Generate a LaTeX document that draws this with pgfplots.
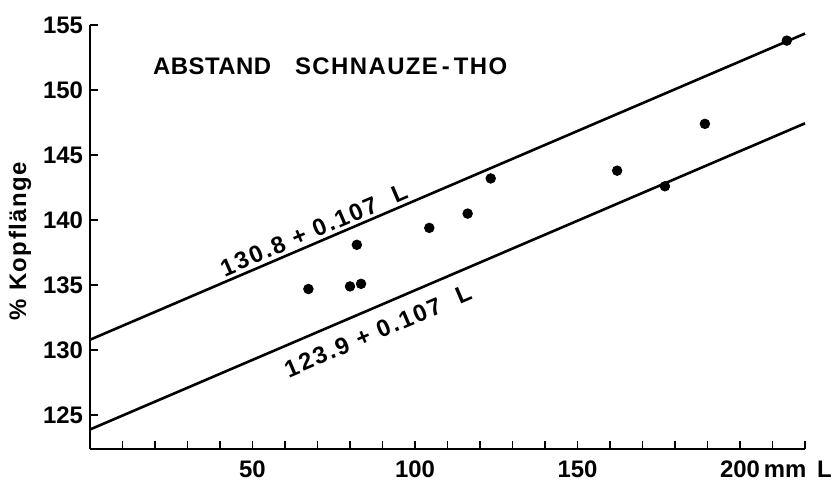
\documentclass[border=0pt]{standalone}
\usepackage{fontspec}
\setmainfont{Liberation Sans}
\newfontfamily\spaced{Liberation Sans}[LetterSpace=6]
\newfontfamily\wide{Liberation Sans}[LetterSpace=9]
\newfontfamily\tight{Liberation Sans}[LetterSpace=2]
\usepackage{pgfplots}
\pgfplotsset{compat=1.18}
\begin{document}
\begin{tikzpicture}
\begin{axis}[
  at={(0,0)}, anchor=south west,
  scale only axis, width=357.5bp, height=212bp,
  xmin=0, xmax=220, ymin=122.4, ymax=155,
  axis x line=bottom, axis y line=left,
  axis line style={-, line width=1bp, black},
  xtick={50,100,150,200},
  xticklabels={50,100,150,{200\rlap{\,mm\ \,L}}},
  minor xtick={10,20,...,220},
  ytick={125,130,...,155},
  tick align=inside,
  major tick length=4bp, minor tick length=4bp,
  tick style={line width=0.8bp, black},
  /pgf/number format/assume math mode=true,
  ticklabel style={font=\fontsize{12}{14}\selectfont\bfseries},
  xticklabel style={yshift=-2.5bp},
  ylabel={\% Kopflänge},
  every axis y label/.style={at={(axis description cs:0,0.49)}, xshift=-35bp, rotate=90, anchor=center, font=\fontsize{12}{14}\selectfont\spaced\bfseries},
  clip=false,
]
\addplot[black, line width=1.3bp, no marks] coordinates {(0,130.8) (220,154.34)}
  node[pos=0.32, sloped, above, inner sep=1.5bp, font=\fontsize{12}{14}\selectfont\wide\bfseries] {130.8 + 0.107\ \ L};
\addplot[black, line width=1.3bp, no marks] coordinates {(0,123.9) (220,147.44)}
  node[pos=0.39, sloped, below, inner sep=6.5bp, font=\fontsize{12}{14}\selectfont\wide\bfseries] {123.9 + 0.107\ \ L};
\addplot[only marks, mark=*, mark size=2.4bp, black] coordinates {
  (67.2,134.7) (80.0,134.9) (83.4,135.1) (82.1,138.1) (104.4,139.4)
  (116.2,140.5) (123.3,143.2) (162.2,143.8) (176.9,142.6) (189.2,147.4)
  (214.4,153.8)
};
\node[anchor=west, inner sep=0, font=\fontsize{12}{14}\selectfont\bfseries] at (axis cs:19.3,151.8) {{\tight ABSTAND}\hspace{12bp}{\spaced SCHNAUZE\,-\,THO}};
\end{axis}
\pgfresetboundingbox
\useasboundingbox (-45bp,-17.5bp) rectangle (375bp,224.5bp);
\end{tikzpicture}
\end{document}
